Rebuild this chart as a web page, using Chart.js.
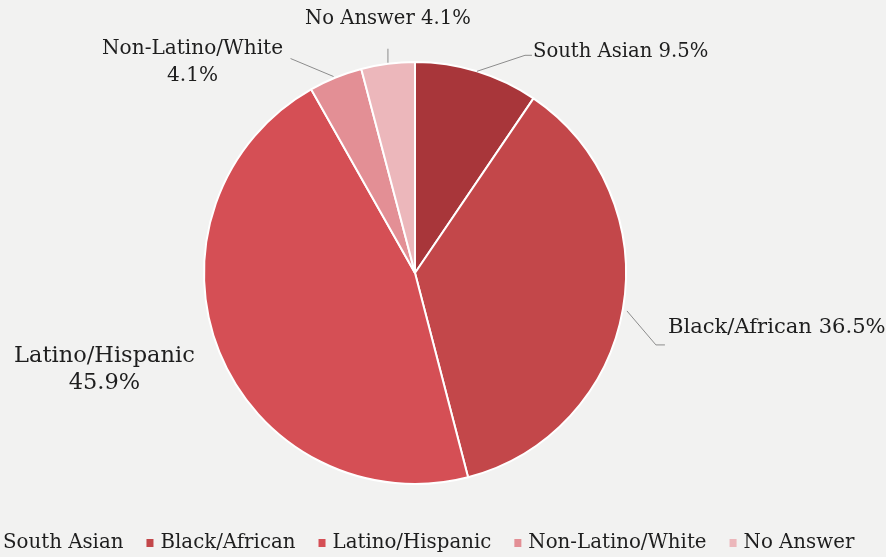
<!DOCTYPE html>
<html>
<head>
<meta charset="utf-8">
<script src="https://cdn.jsdelivr.net/npm/chart.js@4.4.1/dist/chart.umd.min.js"></script>
<style>
  html, body { margin: 0; padding: 0; background: #f2f2f1; }
  #wrap { position: relative; width: 886px; height: 557px; overflow: hidden; }
  canvas { display: block; }
</style>
</head>
<body>
<div id="wrap"><canvas id="myChart" width="886" height="557"></canvas></div>
<script>
"use strict";

// data
const categories = ["South Asian", "Black/African", "Latino/Hispanic", "Non-Latino/White", "No Answer"];
const shares = [9.5, 36.5, 45.9, 4.1, 4.1];
const sliceColors = ["#a8363a", "#c3474a", "#d54f55", "#e38f95", "#ecb7bb"];

const FAMILY = "'DejaVu Serif', serif";

// label layout, relative to the point where the slice's middle meets the rim
// line: points of the leader line, text: anchor of first line, lines: text lines
const labelLayout = [
    { line: [[0, 0], [48, -16], [55, -16]], text: [56, -19], align: "left", size: 19.6, lines: [categories[0] + " " + shares[0] + "%"] },
    { line: [[4, 2], [33, 36], [42, 36]], text: [45, 19], align: "left", size: 21.1, lines: [categories[1] + " " + shares[1] + "%"] },
    { line: null, text: [-115, 4], align: "center", size: 22.5, lines: [categories[2], shares[2] + "%"] },
    { line: [[-2, -1], [-45, -19]], text: [-143, -29], align: "center", size: 20.1, lines: [categories[3], shares[3] + "%"] },
    { line: [[0, -1], [0, -15]], text: [0, -45], align: "center", size: 19.6, lines: [categories[4] + " " + shares[4] + "%"] }
];

const outsideLabels = {
    id: "outsideLabels",
    afterDatasetsDraw(chart) {
        const ctx = chart.ctx;
        const meta = chart.getDatasetMeta(0);
        ctx.save();
        ctx.fillStyle = "#1e1e1e";
        ctx.textBaseline = "middle";
        meta.data.forEach(function (arc, i) {
            const p = arc.getProps(["x", "y", "startAngle", "endAngle", "outerRadius"], true);
            const mid = (p.startAngle + p.endAngle) / 2;
            const ex = p.x + Math.cos(mid) * p.outerRadius;
            const ey = p.y + Math.sin(mid) * p.outerRadius;
            const lay = labelLayout[i];
            if (lay.line) {
                ctx.strokeStyle = "#8c8c8c";
                ctx.lineWidth = 1;
                ctx.beginPath();
                lay.line.forEach(function (pt, k) {
                    if (k == 0) ctx.moveTo(ex + pt[0], ey + pt[1]);
                    else ctx.lineTo(ex + pt[0], ey + pt[1]);
                });
                ctx.stroke();
            }
            ctx.font = lay.size + "px " + FAMILY;
            ctx.textAlign = lay.align;
            lay.lines.forEach(function (t, k) {
                ctx.fillText(t, ex + lay.text[0], ey + lay.text[1] + k * 27);
            });
        });
        ctx.restore();
    }
};

// legend drawn by hand so the first marker can fall off the left edge like the original
const bottomLegend = {
    id: "bottomLegend",
    afterDraw(chart) {
        const ctx = chart.ctx;
        ctx.save();
        ctx.font = "19.8px " + FAMILY;
        ctx.textBaseline = "middle";
        ctx.textAlign = "left";
        let x = 3;
        const y = 543;
        categories.forEach(function (c, i) {
            ctx.fillStyle = sliceColors[i];
            ctx.fillRect(x - 14, y - 4, 7, 8);
            ctx.fillStyle = "#1e1e1e";
            ctx.fillText(c, x, y);
            x += ctx.measureText(c).width + 37;
        });
        ctx.restore();
    }
};

new Chart(document.getElementById("myChart"), {
    type: "pie",
    data: {
        labels: categories,
        datasets: [{
            data: shares,
            backgroundColor: sliceColors,
            borderColor: "#ffffff",
            borderWidth: 2
        }]
    },
    options: {
        responsive: false,
        animation: false,
        layout: { padding: { top: 61, bottom: 72, left: 0, right: 56 } },
        plugins: {
            legend: { display: false },
            tooltip: { enabled: false }
        }
    },
    plugins: [outsideLabels, bottomLegend]
});
</script>
</body>
</html>
